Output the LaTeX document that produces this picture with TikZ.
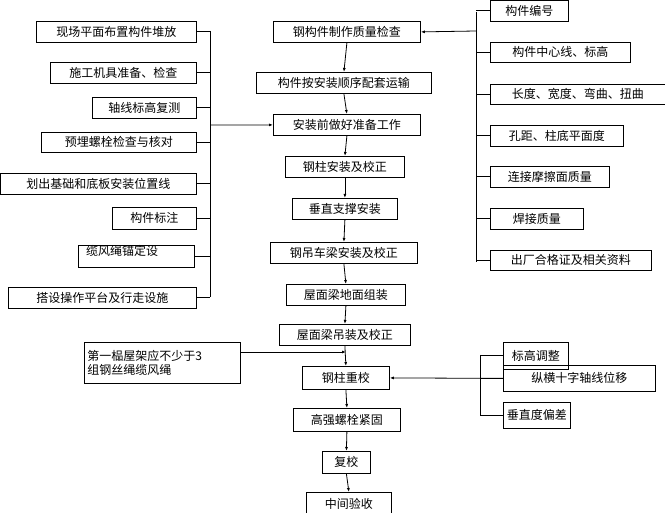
\documentclass[tikz,border=0pt]{standalone}
\usepackage{fontspec}
\setmainfont{Noto Sans CJK SC}
\usetikzlibrary{arrows.meta}
\begin{document}
\begin{tikzpicture}[x=1pt,y=-1pt,
 bx/.style={draw,thick,inner sep=0pt,font=\fontsize{12}{13}\selectfont},
 ar/.style={thick,-{Latex[length=4pt,width=3pt]}},
 ln/.style={thick}]
\useasboundingbox (0,0) rectangle (665,513);
\newcommand{\bb}[6]{\node[bx,minimum width={#4-#2},minimum height={#5-#3},anchor=north west] (#1) at (#2,#3) {#6};}
% center
\bb{A}{273}{21}{420}{42}{钢构件制作质量检查}
\bb{B}{256}{72}{431}{93}{构件按安装顺序配套运输}
\bb{C}{273}{114}{420}{135}{安装前做好准备工作}
\bb{D}{285}{156}{404}{177}{钢柱安装及校正}
\bb{E}{292}{198}{397}{219}{垂直支撑安装}
\bb{F}{270}{242}{417}{263}{钢吊车梁安装及校正}
\bb{G}{286}{284}{405}{305}{屋面梁地面组装}
\bb{H}{279}{324}{410}{345}{屋面梁吊装及校正}
\bb{I}{302}{366}{389}{389}{钢柱重校}
\bb{J}{293}{408}{400}{431}{高强螺栓紧固}
\bb{K}{322}{451}{370}{473}{复校}
\bb{L}{306}{492}{391}{516}{中间验收}
\foreach \a/\b in {A/B,B/C,C/D,D/E,E/F,F/G,G/H,H/I,I/J,J/K,K/L}
  \draw[ar] (\a.south) -- (\b.north);
% left
\bb{l1}{36}{21}{196}{42}{现场平面布置构件堆放}
\bb{l2}{50}{62}{196}{83}{施工机具准备、检查}
\bb{l3}{92}{97}{196}{118}{轴线标高复测}
\bb{l4}{41}{132}{196}{152}{预埋螺栓检查与核对}
\bb{l5}{0}{173}{196}{194}{划出基础和底板安装位置线}
\bb{l6}{112}{207}{196}{229}{构件标注}
\bb{l7}{78}{245}{194}{267}{}
\node[anchor=north west,inner sep=0pt,font=\fontsize{12}{13}\selectfont] (l7t) at (86,245) {缆风绳锚定设};
\bb{l8}{8}{287}{196}{308}{搭设操作平台及行走设施}
\coordinate (lt) at (210,31); \coordinate (lb) at (210,297); \coordinate (lm) at (210,125);
\draw[ln] (lt) -- (lb);
\foreach \n in {l1,l2,l3,l4,l5,l6,l7,l8} \draw[ln] (\n.east) -- (\n.east -| lt);
\draw[ar] (lm) -- (C.west);
% right
\bb{r1}{490}{0}{568}{21}{构件编号}
\bb{r2}{490}{42}{630}{62}{构件中心线、标高}
\bb{r3}{490}{84}{665}{104}{长度、宽度、弯曲、扭曲}
\bb{r4}{490}{125}{623}{146}{孔距、柱底平面度}
\bb{r5}{490}{166}{609}{187}{连接摩擦面质量}
\bb{r6}{490}{208}{583}{229}{焊接质量}
\bb{r7}{490}{250}{651}{270}{出厂合格证及相关资料}
\coordinate (rt) at (476,12); \coordinate (rb) at (476,262); \coordinate (rm) at (476,31);
\draw[ln] (rt) -- (rb);
\foreach \n in {r1,r2,r3,r4,r5,r6,r7} \draw[ln] (\n.west) -- (\n.west -| rt);
\draw[ar] (rm) -- (A.east);
% note
\node[draw,thick,anchor=north west,minimum width=156pt,minimum height=41pt,align=left,text width=150pt,inner sep=3pt,font=\fontsize{12}{14}\selectfont] (N) at (84,342) {第一榀屋架应不少于3\\组钢丝绳缆风绳};
\coordinate (nm) at (346,352);
\draw[ar] (N.east |- nm) -- (nm);
% lower right
\bb{s1}{503}{342}{568}{369}{标高调整}
\bb{s2}{503}{365}{655}{391}{纵横十字轴线位移}
\bb{s3}{503}{402}{570}{428}{垂直度偏差}
\coordinate (st) at (480,355); \coordinate (sb) at (480,415);
\draw[ln] (st) -- (sb);
\foreach \n in {s1,s2,s3} \draw[ln] (\n.west) -- (\n.west -| st);
\draw[ar] (s2.west) -- (I.east);
\end{tikzpicture}
\end{document}
